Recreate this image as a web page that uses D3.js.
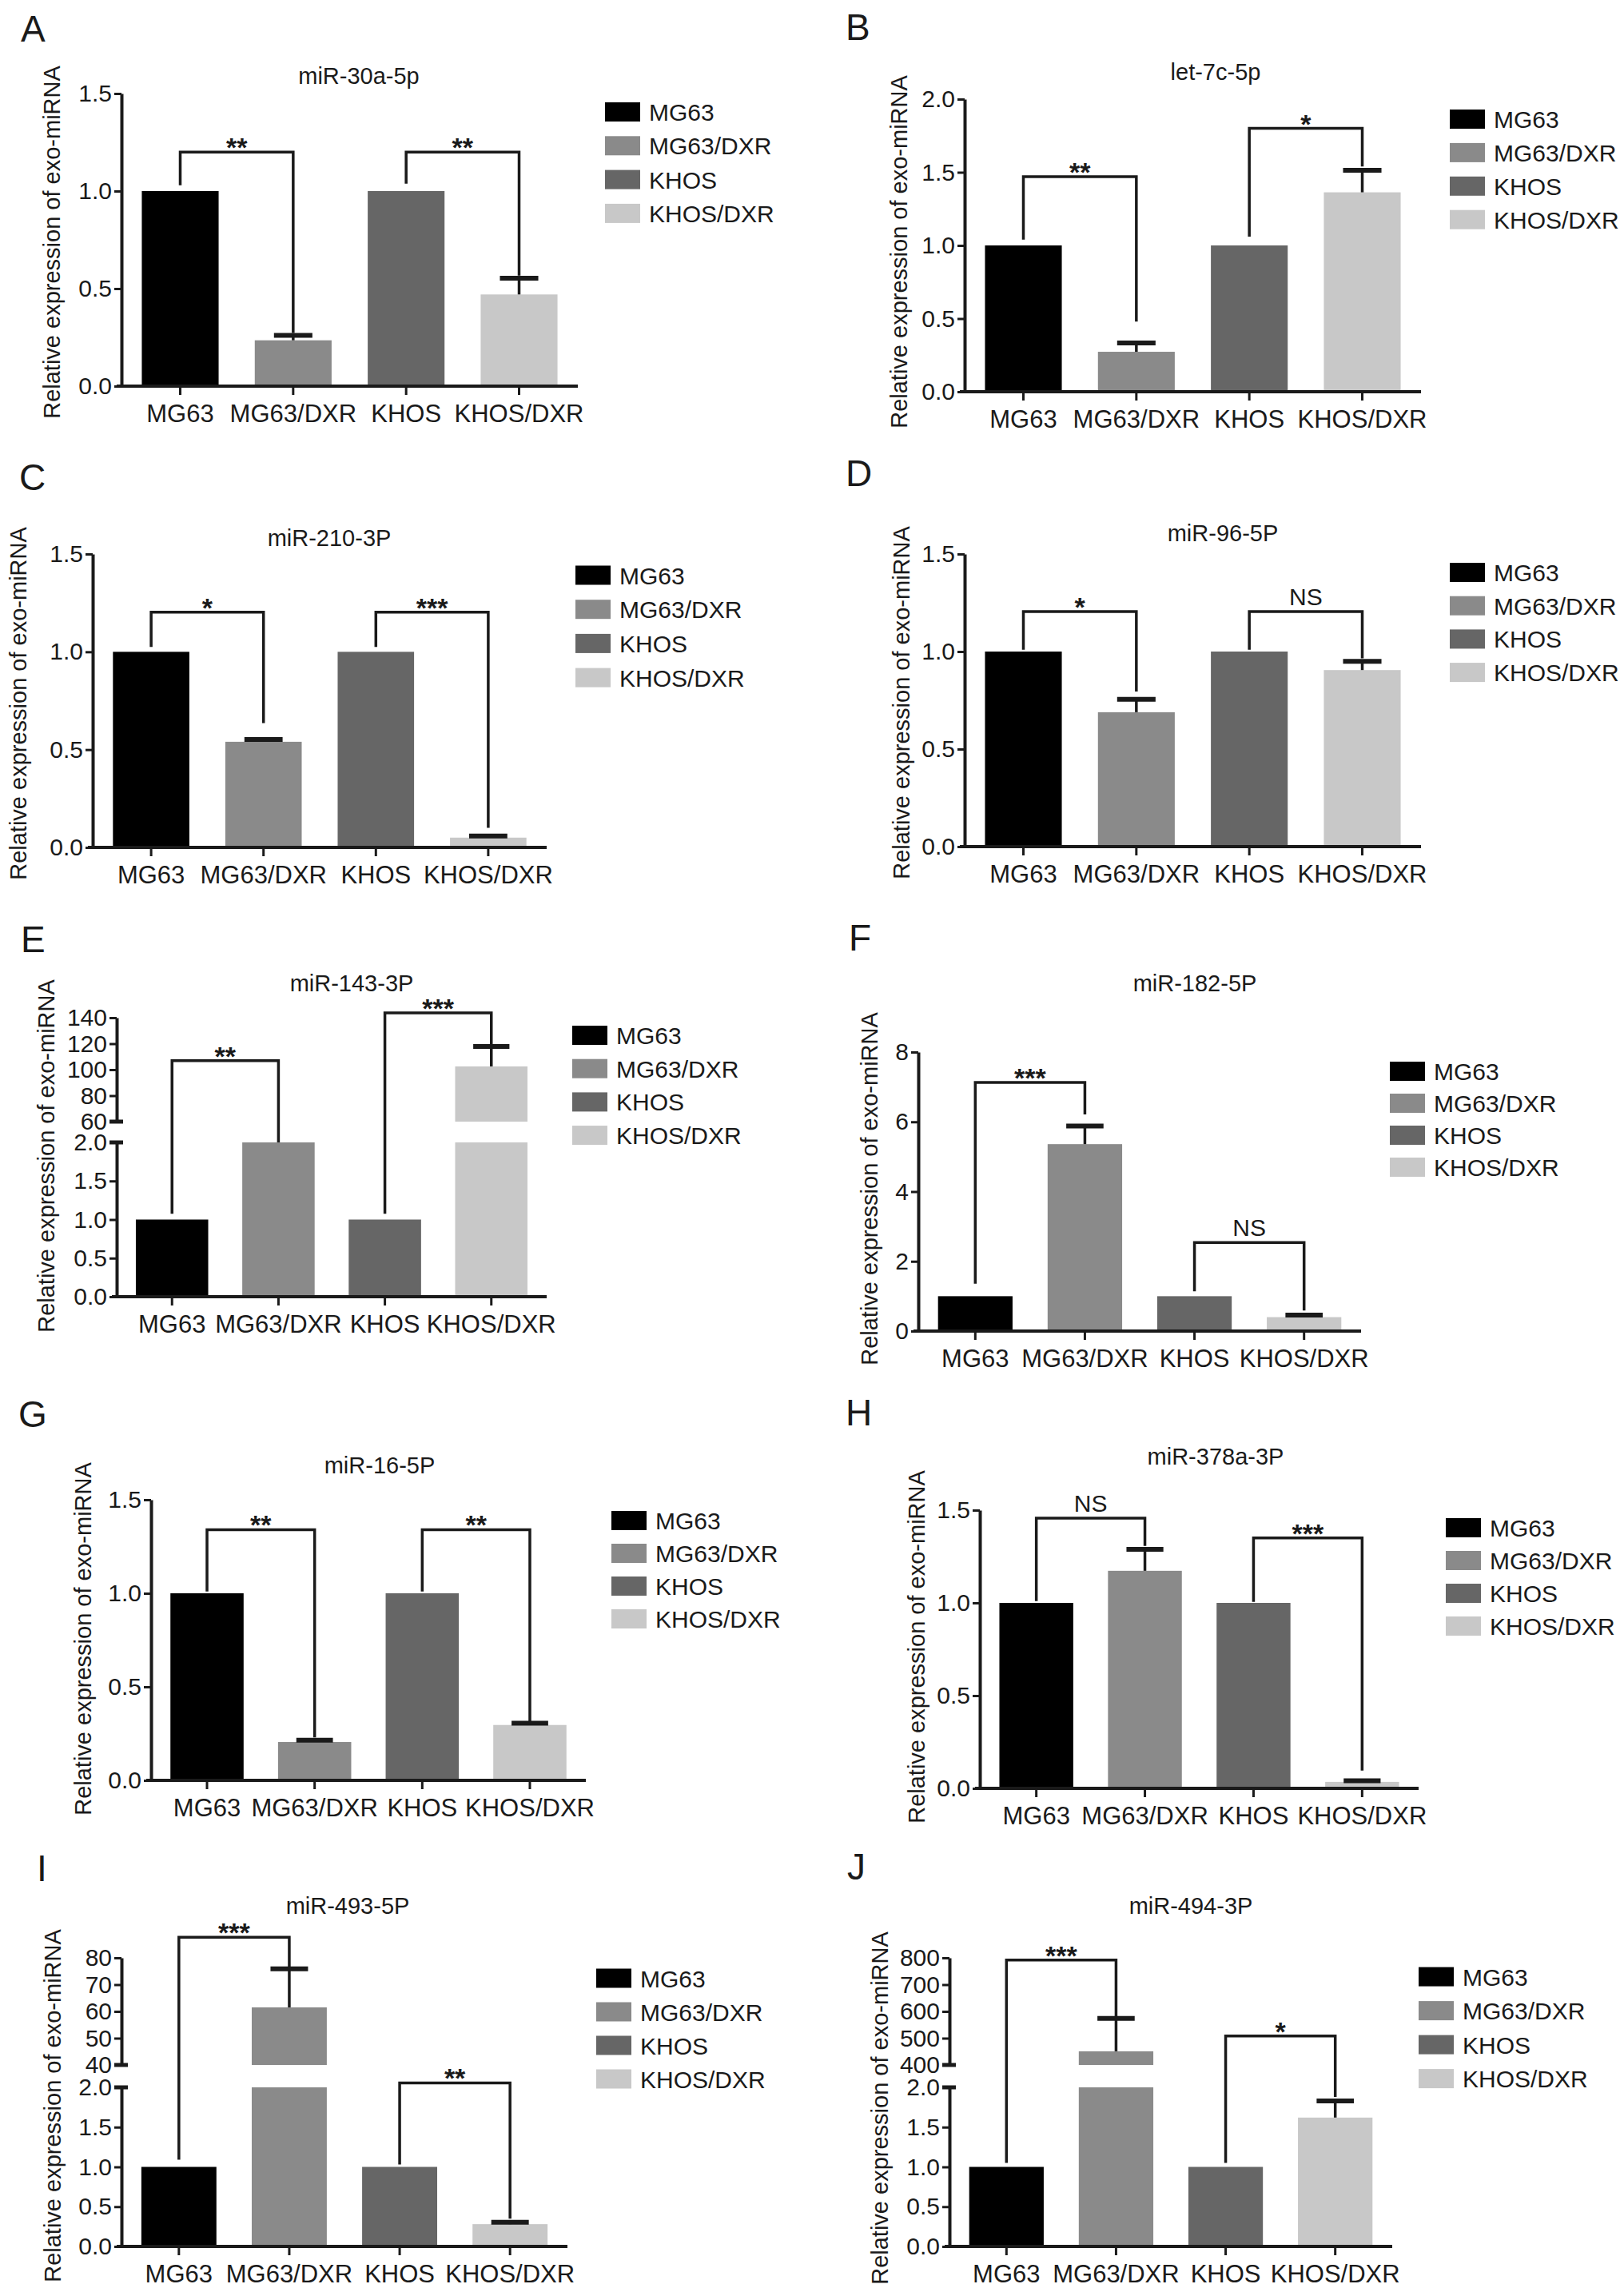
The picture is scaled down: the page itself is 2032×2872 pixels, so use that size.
<!DOCTYPE html>
<html><head><meta charset="utf-8">
<script src="https://cdn.jsdelivr.net/npm/d3@7"></script>
<style>
body{margin:0;background:#fff;}
svg text{font-family:"Liberation Sans", Arial, Helvetica, sans-serif;fill:#1a1a1a;}
</style></head><body>
<svg id="fig" width="2032" height="2872"></svg>
<script>
// ---------------- DATA ----------------
const categories = ["MG63","MG63/DXR","KHOS","KHOS/DXR"];
const panelLetters = ["A","B","C","D","E","F","G","H","I","J"];
const panelTitles = ["miR-30a-5p","let-7c-5p","miR-210-3P","miR-96-5P","miR-143-3P","miR-182-5P","miR-16-5P","miR-378a-3P","miR-493-5P","miR-494-3P"];
const meanValues = [
  [1, 0.235, 1, 0.47],
  [1, 0.273, 1, 1.363],
  [1, 0.54, 1, 0.05],
  [1, 0.689, 1, 0.905],
  [1, 2.0, 1, 102.5],
  [1, 5.36, 1, 0.40],
  [1, 0.205, 1, 0.296],
  [1, 1.173, 1, 0.035],
  [1, 61.5, 1, 0.28],
  [1, 451, 1, 1.62]
];
const errorValues = [
  [0, 0.025, 0, 0.083],
  [0, 0.06, 0, 0.15],
  [0, 0.012, 0, 0.008],
  [0, 0.066, 0, 0.045],
  [0, 0, 0, 15.3],
  [0, 0.52, 0, 0.06],
  [0, 0.01, 0, 0.01],
  [0, 0.116, 0, 0.006],
  [0, 14.4, 0, 0.025],
  [0, 123, 0, 0.21]
];
const lowerTicks = [
  [0, 0.5, 1.0, 1.5],
  [0, 0.5, 1.0, 1.5, 2.0],
  [0, 0.5, 1.0, 1.5],
  [0, 0.5, 1.0, 1.5],
  [0, 0.5, 1.0, 1.5, 2.0],
  [0, 2, 4, 6, 8],
  [0, 0.5, 1.0, 1.5],
  [0, 0.5, 1.0, 1.5],
  [0, 0.5, 1.0, 1.5, 2.0],
  [0, 0.5, 1.0, 1.5, 2.0]
];
const upperTicks = [null, null, null, null, [60, 80, 100, 120, 140], null, null, null, [40, 50, 60, 70, 80], [400, 500, 600, 700, 800]];
// significance brackets: groups compared, bracket level, leg end values, mark
const comparisons = [
  [{from:0,to:1,level:1.2,leftEnd:1.03,rightEnd:0.273,mark:"**"},{from:2,to:3,level:1.2,leftEnd:1.038,rightEnd:0.567,mark:"**"}],
  [{from:0,to:1,level:1.47,leftEnd:1.04,rightEnd:0.48,mark:"**"},{from:2,to:3,level:1.80,leftEnd:1.06,rightEnd:1.54,mark:"*"}],
  [{from:0,to:1,level:1.203,leftEnd:1.025,rightEnd:0.636,mark:"*"},{from:2,to:3,level:1.203,leftEnd:1.025,rightEnd:0.10,mark:"***"}],
  [{from:0,to:1,level:1.205,leftEnd:1.009,rightEnd:0.795,mark:"*"},{from:2,to:3,level:1.205,leftEnd:1.009,rightEnd:0.965,mark:"NS"}],
  [{from:0,to:1,level:107,leftEnd:1.075,rightEnd:2.0,mark:"**"},{from:2,to:3,level:143.7,leftEnd:1.075,rightEnd:118.5,mark:"***"}],
  [{from:0,to:1,level:7.13,leftEnd:1.36,rightEnd:6.21,mark:"***"},{from:2,to:3,level:2.54,leftEnd:1.14,rightEnd:0.59,mark:"NS"}],
  [{from:0,to:1,level:1.34,leftEnd:1.01,rightEnd:0.23,mark:"**"},{from:2,to:3,level:1.34,leftEnd:1.01,rightEnd:0.316,mark:"**"}],
  [{from:0,to:1,level:1.457,leftEnd:1.01,rightEnd:1.307,mark:"NS"},{from:2,to:3,level:1.35,leftEnd:1.005,rightEnd:0.096,mark:"***"}],
  [{from:0,to:1,level:87.7,leftEnd:1.09,rightEnd:76.6,mark:"***"},{from:2,to:3,level:9.6,leftEnd:1.03,rightEnd:0.35,mark:"**"}],
  [{from:0,to:1,level:792,leftEnd:1.05,rightEnd:580,mark:"***"},{from:2,to:3,level:508,leftEnd:1.05,rightEnd:1.88,mark:"*"}]
];
const yAxisLabel = "Relative expression of exo-miRNA";
const breakValue = 2.0;

// ---------------- LAYOUT (pixel frames) ----------------
const layouts = [
  {ax:152, xe:723, y0:483, yt:117, title:[449,95], letter:[26,52], legend:[757,140,42.3], ylab:[65,303]},
  {ax:1207, xe:1778, y0:490, yt:124, title:[1521,90], letter:[1058,50], legend:[1814,149,41.9], ylab:[1125,315]},
  {ax:116, xe:684, y0:1060, yt:693, title:[412,673], letter:[24,613], legend:[720,719.5,42.7], ylab:[23,880]},
  {ax:1207, xe:1778, y0:1059, yt:693, title:[1530,667], letter:[1058,608], legend:[1814,716,41.7], ylab:[1128,879]},
  {ax:146, xe:684, y0:1622, yb2:1429, yu0:1403, yu1:1273, title:[440,1230], letter:[26,1191], legend:[716,1295,41.7], ylab:[58,1446]},
  {ax:1149, xe:1703, y0:1665, yt:1316, title:[1495,1230], letter:[1062,1189], legend:[1739,1340,40], ylab:[1088,1487]},
  {ax:189, xe:733, y0:2227, yt:1876, title:[475,1833], letter:[23,1785], legend:[765,1902,41], ylab:[104,2050]},
  {ax:1226, xe:1775, y0:2237, yt:1889, title:[1521,1822], letter:[1058,1783], legend:[1809,1911,41], ylab:[1147,2060]},
  {ax:152, xe:710, y0:2810, yb2:2611, yu0:2583, yu1:2449, title:[435,2384], letter:[46,2353], legend:[746,2474.5,42], ylab:[66,2634]},
  {ax:1188, xe:1742, y0:2810, yb2:2611, yu0:2583, yu1:2449, title:[1490,2384], letter:[1060,2351], legend:[1775,2472.6,42.5], ylab:[1101,2637]}
];
const barColors = ["#000000","#8a8a8a","#666666","#c8c8c8"];
const ink = "#1a1a1a";

const svg = d3.select("#fig");
svg.append("rect").attr("width",2032).attr("height",2872).attr("fill","#fff");

layouts.forEach((L, p) => {
  const g = svg.append("g").attr("class","panel panel-"+panelLetters[p]);
  const means = meanValues[p], errs = errorValues[p];
  const lt = lowerTicks[p], ut = upperTicks[p];
  const broken = ut !== null;

  const x = d3.scaleBand().domain(categories).range([L.ax, L.xe]).paddingInner(0.32).paddingOuter(0.18);
  const bw = x.bandwidth();

  let yLow, yUp, yGap, yv;
  if (!broken) {
    yLow = d3.scaleLinear().domain([0, d3.max(lt)]).range([L.y0, L.yt]);
    yv = v => yLow(v);
  } else {
    yLow = d3.scaleLinear().domain([0, breakValue]).range([L.y0, L.yb2]);
    yUp = d3.scaleLinear().domain([d3.min(ut), d3.max(ut)]).range([L.yu0, L.yu1]);
    yGap = d3.scaleLinear().domain([breakValue, d3.min(ut)]).range([L.yb2, L.yu0]);
    yv = v => v <= breakValue ? yLow(v) : (v >= d3.min(ut) ? yUp(v) : yGap(v));
  }

  // bars
  const barG = g.append("g");
  categories.forEach((c, i) => {
    const m = means[i];
    const lowTop = broken ? Math.min(m, breakValue) : m;
    barG.append("rect").attr("x", x(c)).attr("width", bw)
      .attr("y", yLow(lowTop)).attr("height", yLow(0) - yLow(lowTop))
      .attr("fill", barColors[i]);
    if (broken && m > d3.min(ut)) {
      barG.append("rect").attr("x", x(c)).attr("width", bw)
        .attr("y", yUp(m)).attr("height", yUp(d3.min(ut)) - yUp(m))
        .attr("fill", barColors[i]);
    }
  });

  // error bars (upper only)
  categories.forEach((c, i) => {
    const e = errs[i];
    if (!e) return;
    const cx = x(c) + bw / 2;
    const m = means[i];
    barG.append("line").attr("x1", cx).attr("x2", cx).attr("y1", yv(m)).attr("y2", yv(m + e))
      .attr("stroke", ink).attr("stroke-width", 3.5);
    barG.append("line").attr("x1", cx - bw * 0.25).attr("x2", cx + bw * 0.25)
      .attr("y1", yv(m + e)).attr("y2", yv(m + e))
      .attr("stroke", ink).attr("stroke-width", 6);
  });

  // axes
  const fmt = (v) => (Number.isInteger(v) && d3.max(lt) > 2) ? d3.format("d")(v) : d3.format(".1f")(v);
  const styleAxis = (sel, fs) => {
    sel.select(".domain").attr("stroke", ink).attr("stroke-width", 4);
    sel.selectAll(".tick line").attr("stroke", ink).attr("stroke-width", 3);
    sel.selectAll(".tick text").attr("font-size", fs).attr("fill", ink)
      .style("font-family", '"Liberation Sans", Arial, sans-serif');
  };
  const yAxG = g.append("g").attr("transform", `translate(${L.ax},0)`)
    .call(d3.axisLeft(yLow).tickValues(lt).tickFormat(fmt).tickSize(9).tickPadding(3).tickSizeOuter(0));
  styleAxis(yAxG, 30);
  if (broken) {
    const yAxU = g.append("g").attr("transform", `translate(${L.ax},0)`)
      .call(d3.axisLeft(yUp).tickValues(ut).tickFormat(d3.format("d")).tickSize(9).tickPadding(3).tickSizeOuter(0));
    styleAxis(yAxU, 30);
    [yLow(breakValue), yUp(d3.min(ut))].forEach(yy => {
      g.append("line").attr("x1", L.ax - 9).attr("x2", L.ax + 8).attr("y1", yy).attr("y2", yy)
        .attr("stroke", ink).attr("stroke-width", 5);
    });
  }
  const xAxG = g.append("g").attr("transform", `translate(0,${L.y0})`)
    .call(d3.axisBottom(x).tickSize(11).tickPadding(12).tickSizeOuter(0));
  styleAxis(xAxG, 31);
  xAxG.select(".domain").attr("d", `M${L.ax - 6},0H${L.xe}`);

  // significance brackets
  comparisons[p].forEach(cmp => {
    const xl = x(categories[cmp.from]) + bw / 2;
    const xr = x(categories[cmp.to]) + bw / 2;
    const yl = yv(cmp.level);
    g.append("path")
      .attr("d", `M${xl},${yv(cmp.leftEnd)}V${yl}H${xr}V${yv(cmp.rightEnd)}`)
      .attr("fill", "none").attr("stroke", ink).attr("stroke-width", 3.5);
    const isStar = cmp.mark.indexOf("*") >= 0;
    g.append("text").attr("x", (xl + xr) / 2).attr("y", isStar ? yl + 6 : yl - 8)
      .attr("text-anchor", "middle").attr("font-size", isStar ? 34 : 30)
      .attr("font-weight", isStar ? "bold" : "normal")
      .text(cmp.mark);
  });

  // title
  g.append("text").attr("x", L.title[0]).attr("y", L.title[1] + 10).attr("text-anchor", "middle")
    .attr("font-size", 29).text(panelTitles[p]);
  // panel letter
  g.append("text").attr("x", L.letter[0]).attr("y", L.letter[1])
    .attr("font-size", 46).text(panelLetters[p]);
  // y label
  g.append("text").attr("transform", `translate(${L.ylab[0]},${L.ylab[1]}) rotate(-90)`)
    .attr("text-anchor", "middle").attr("dy", "0.35em").attr("font-size", 29).text(yAxisLabel);

  // legend
  const lg = g.append("g");
  categories.forEach((c, i) => {
    const cy = L.legend[1] + i * L.legend[2];
    lg.append("rect").attr("x", L.legend[0]).attr("y", cy - 12).attr("width", 44).attr("height", 24)
      .attr("fill", barColors[i]);
    lg.append("text").attr("x", L.legend[0] + 55).attr("y", cy + 11).attr("font-size", 30).text(c);
  });
});
</script>
</body></html>
